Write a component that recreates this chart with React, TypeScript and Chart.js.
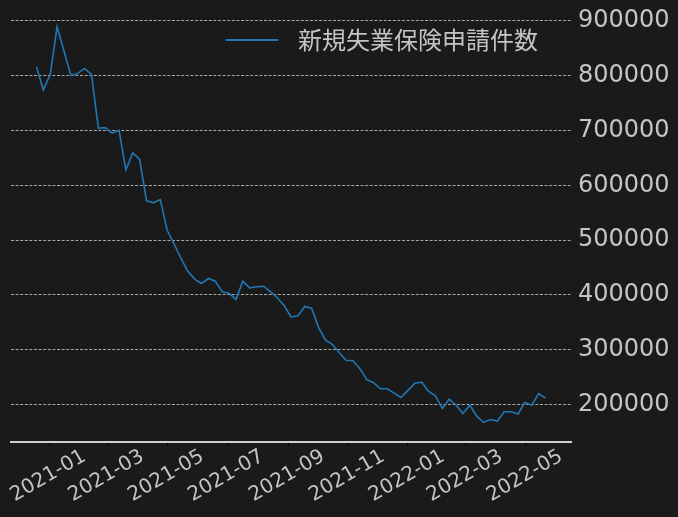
import React, { useEffect, useRef } from "react";
import { Chart, registerables } from "chart.js";

Chart.register(...registerables);

const seriesName = "新規失業保険申請件数";

const weekDates = [
  "2020-12-19", "2020-12-26",
  "2021-01-02", "2021-01-09", "2021-01-16", "2021-01-23", "2021-01-30",
  "2021-02-06", "2021-02-13", "2021-02-20", "2021-02-27",
  "2021-03-06", "2021-03-13", "2021-03-20", "2021-03-27",
  "2021-04-03", "2021-04-10", "2021-04-17", "2021-04-24",
  "2021-05-01", "2021-05-08", "2021-05-15", "2021-05-22", "2021-05-29",
  "2021-06-05", "2021-06-12", "2021-06-19", "2021-06-26",
  "2021-07-03", "2021-07-10", "2021-07-17", "2021-07-24", "2021-07-31",
  "2021-08-07", "2021-08-14", "2021-08-21", "2021-08-28",
  "2021-09-04", "2021-09-11", "2021-09-18", "2021-09-25",
  "2021-10-02", "2021-10-09", "2021-10-16", "2021-10-23", "2021-10-30",
  "2021-11-06", "2021-11-13", "2021-11-20", "2021-11-27",
  "2021-12-04", "2021-12-11", "2021-12-18", "2021-12-25",
  "2022-01-01", "2022-01-08", "2022-01-15", "2022-01-22", "2022-01-29",
  "2022-02-05", "2022-02-12", "2022-02-19", "2022-02-26",
  "2022-03-05", "2022-03-12", "2022-03-19", "2022-03-26",
  "2022-04-02", "2022-04-09", "2022-04-16", "2022-04-23", "2022-04-30",
  "2022-05-07", "2022-05-14", "2022-05-21",
];

const claims = [
  816000, 774000,
  802000, 889000, 845000, 800000, 804000,
  813000, 802000, 704000, 705000,
  695000, 700000, 628000, 659000,
  647000, 572000, 568000, 574000,
  518000, 493000, 467000, 443000, 429000,
  421000, 430000, 425000, 406000,
  403000, 392000, 425000, 413000, 415000,
  416000, 406000, 395000, 381000,
  360000, 362000, 379000, 376000,
  341000, 318000, 310000, 295000, 281000,
  280000, 266000, 246000, 240000,
  229000, 229000, 221000, 213000,
  226000, 239000, 241000, 224000, 216000,
  193000, 210000, 199000, 184000,
  199000, 179000, 168000, 173000,
  170000, 187000, 187000, 183000, 204000,
  199000, 220000, 212000,
];

const xTickLabels = [
  "2021-01", "2021-03", "2021-05", "2021-07", "2021-09",
  "2021-11", "2022-01", "2022-03", "2022-05",
];

const yTickValues = [200000, 300000, 400000, 500000, 600000, 700000, 800000, 900000];

const BG = "#1a1a1a";
const TEXT = "#c4c4c4";
const LINE = "#1f77b4";

const toDay = (s: string) => Date.parse(s + "T00:00:00Z") / 86400000;

export default function App() {
  const ref = useRef<HTMLCanvasElement | null>(null);

  useEffect(() => {
    document.body.style.background = BG;
    const canvas = ref.current!;
    const xs = weekDates.map(toDay);
    const pts = xs.map((x, i) => ({ x, y: claims[i] }));
    const xMinD = Math.min(...xs);
    const xMaxD = Math.max(...xs);
    const xm = (xMaxD - xMinD) * 0.05;
    const yMinD = Math.min(...claims);
    const yMaxD = Math.max(...claims);
    const ym = (yMaxD - yMinD) * 0.05;
    const tickDays = xTickLabels.map((l) => toDay(l + "-01"));

    const bgPlugin = {
      id: "bg",
      beforeDraw(chart: any) {
        const c = chart.ctx;
        c.save();
        c.fillStyle = BG;
        c.fillRect(0, 0, chart.width, chart.height);
        c.restore();
      },
    };

    const xLabelPlugin = {
      id: "xlabels",
      afterDraw(chart: any) {
        const c = chart.ctx;
        const sx = chart.scales.x;
        c.save();
        c.fillStyle = TEXT;
        c.font = '20px "DejaVu Sans"';
        c.textAlign = "center";
        c.textBaseline = "middle";
        tickDays.forEach((d, i) => {
          const px = sx.getPixelForValue(d);
          c.save();
          c.translate(px - 1, chart.chartArea.bottom + 34);
          c.rotate((-30 * Math.PI) / 180);
          c.fillText(xTickLabels[i], 0, 0);
          c.restore();
        });
        c.restore();
      },
    };

    const legendPlugin = {
      id: "customLegend",
      afterDraw(chart: any) {
        const c = chart.ctx;
        const ly = chart.chartArea.top + 33;
        const lx = chart.chartArea.right - 345;
        c.save();
        c.strokeStyle = LINE;
        c.lineWidth = 1.8;
        c.beginPath();
        c.moveTo(lx, ly);
        c.lineTo(lx + 52, ly);
        c.stroke();
        c.fillStyle = TEXT;
        c.font = '24px "Noto Sans CJK JP"';
        c.textAlign = "left";
        c.textBaseline = "middle";
        c.fillText(seriesName, lx + 72, ly);
        c.restore();
      },
    };

    const chart = new Chart(canvas, {
      type: "line",
      data: {
        datasets: [
          {
            label: seriesName,
            data: pts,
            borderColor: LINE,
            backgroundColor: LINE,
            borderWidth: 1.6,
            pointRadius: 0,
            fill: false,
            tension: 0,
          },
        ],
      },
      options: {
        responsive: false,
        animation: false,
        layout: { padding: { left: 11, top: 7, right: 0, bottom: 0 } },
        plugins: {
          legend: { display: false },
          tooltip: { enabled: false },
        },
        scales: {
          x: {
            type: "linear",
            min: xMinD - xm,
            max: xMaxD + xm,
            afterBuildTicks: (scale: any) => {
              scale.ticks = tickDays.map((v) => ({ value: v }));
            },
            afterFit: (scale: any) => {
              scale.height = 75;
              scale.paddingLeft = 0;
              scale.paddingRight = 0;
            },
            ticks: { display: false },
            grid: {
              display: true,
              drawOnChartArea: false,
              drawTicks: true,
              tickLength: 4,
              tickColor: "#000000",
              lineWidth: 1,
            },
            border: { display: true, color: "#cfcfcf", width: 2 },
          },
          y: {
            type: "linear",
            position: "right",
            min: yMinD - ym,
            max: yMaxD + ym,
            afterBuildTicks: (scale: any) => {
              scale.ticks = yTickValues.map((v) => ({ value: v }));
            },
            afterFit: (scale: any) => {
              scale.width = 107;
              scale.paddingTop = 0;
              scale.paddingBottom = 0;
            },
            ticks: {
              color: TEXT,
              padding: 7,
              font: { family: '"DejaVu Sans"', size: 24 },
              callback: (v: any) => String(v),
            },
            grid: {
              display: true,
              drawTicks: false,
              color: "#b8b8b8",
              lineWidth: 0.9,
            },
            border: { display: false, dash: [3, 1.6] },
          },
        },
      },
      plugins: [bgPlugin, xLabelPlugin, legendPlugin],
    });

    return () => chart.destroy();
  }, []);

  return (
    <div style={{ position: "absolute", left: 0, top: 0, width: 678, height: 517, background: BG }}>
      <canvas ref={ref} width={678} height={517} />
    </div>
  );
}
